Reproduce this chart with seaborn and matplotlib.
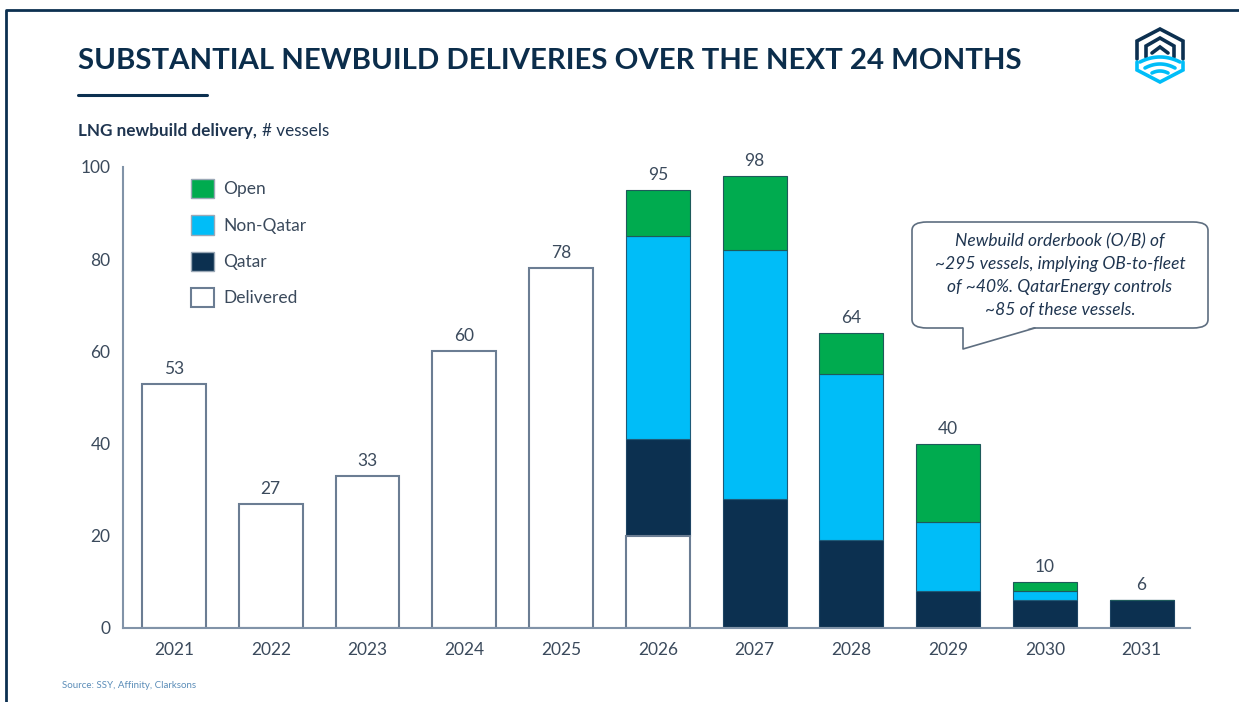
import numpy as np
import matplotlib
matplotlib.use("Agg")
import matplotlib.pyplot as plt
import seaborn as sns
from matplotlib.patches import Patch, FancyBboxPatch, Polygon
from matplotlib.lines import Line2D

# chart values (vessels per year, bottom -> top of each stack)
years = ['2021', '2022', '2023', '2024', '2025', '2026', '2027', '2028', '2029', '2030', '2031']
delivered = np.array([53, 27, 33, 60, 78, 20, 0, 0, 0, 0, 0])
qatar = np.array([0, 0, 0, 0, 0, 21, 28, 19, 8, 6, 6])
non_qatar = np.array([0, 0, 0, 0, 0, 44, 54, 36, 15, 2, 0])
open_ = np.array([0, 0, 0, 0, 0, 10, 16, 9, 17, 2, 0])
totals = delivered + qatar + non_qatar + open_

y_ticks = [0, 20, 40, 60, 80, 100]

NAVY = "#0C3050"
BLUE = "#00BDF8"
GREEN = "#00AB4F"
EDGE = "#6B7D93"
TXT = "#3B4A5C"
AXIS = "#8193A8"

sns.set_style("white")
plt.rcParams['font.family'] = ['Lato', 'DejaVu Sans']

W, H = 1239, 702
fig = plt.figure(figsize=(W / 100, H / 100), dpi=100)


def fx(x):
    return x / W


def fy(y):
    return 1 - y / H


ax = fig.add_axes([fx(123), fy(628), fx(1190) - fx(123), fy(167) - fy(628)])

seg_kw = dict(x=years, order=years, width=0.66, saturation=1, ax=ax)
sns.barplot(y=qatar, bottom=delivered, color=NAVY, edgecolor="#1E4463", linewidth=0.8, **seg_kw)
sns.barplot(y=non_qatar, bottom=delivered + qatar, color=BLUE, edgecolor="#1E5A78", linewidth=0.8, **seg_kw)
sns.barplot(y=open_, bottom=delivered + qatar + non_qatar, color=GREEN, edgecolor="#1E5A5A", linewidth=0.8, **seg_kw)
open_bars = ax.containers[-1]
# delivered drawn last so its outline sits on top of empty segments
sns.barplot(y=delivered, color="white", edgecolor=EDGE, linewidth=1.5, **seg_kw)

# total labels on top of each stack
ax.bar_label(open_bars, labels=[str(t) for t in totals], padding=5,
             fontsize=12.5, color=TXT)

ax.set_xlim(-0.527, 10.5)
ax.set_ylim(0, 100)
ax.set_yticks(y_ticks)
ax.set_xlabel("")
ax.set_ylabel("")
sns.despine(ax=ax)
for side in ["left", "bottom"]:
    ax.spines[side].set_color(AXIS)
    ax.spines[side].set_linewidth(1.5)
ax.tick_params(axis="y", length=5, width=1.2, color=AXIS, labelsize=12.5, labelcolor=TXT, pad=4)
ax.tick_params(axis="x", length=0, labelsize=12.5, labelcolor=TXT, pad=10)

handles = [Patch(facecolor=GREEN, edgecolor="#9AA8B6", label="Open"),
           Patch(facecolor=BLUE, edgecolor="#9AA8B6", label="Non-Qatar"),
           Patch(facecolor=NAVY, edgecolor="#9AA8B6", label="Qatar"),
           Patch(facecolor="white", edgecolor=EDGE, linewidth=1.5, label="Delivered")]
leg = ax.legend(handles=handles, loc="upper left", bbox_to_anchor=(fx(184), fy(172)),
                bbox_transform=fig.transFigure, frameon=False, fontsize=12.5,
                handlelength=1.35, handleheight=1.35, labelspacing=0.97, handletextpad=0.5,
                borderaxespad=0)
for t in leg.get_texts():
    t.set_color(TXT)

# slide frame
fig.add_artist(Line2D([fx(6), fx(6), 1.0], [0.0, fy(10), fy(10)], color=NAVY, lw=2,
                      transform=fig.transFigure))

# title and underline
fig.text(fx(78), fy(61), "SUBSTANTIAL NEWBUILD DELIVERIES OVER THE NEXT 24 MONTHS",
         fontsize=21.2, fontweight="bold", color="#0B2D4B", va="center", ha="left")
fig.add_artist(Line2D([fx(78), fx(207)], [fy(95), fy(95)], color=NAVY, lw=2.2,
                      transform=fig.transFigure))

sub = fig.text(fx(78), fy(131), "LNG newbuild delivery,", fontsize=12.3, fontweight="bold",
               color="#1F3550", va="center", ha="left")
fig.canvas.draw()
sub_end = sub.get_window_extent().x1
fig.text(sub_end / W + fx(5), fy(131), "# vessels", fontsize=12.3, color="#1F3550",
         va="center", ha="left")

fig.text(fx(62), fy(685), "Source: SSY, Affinity, Clarksons", fontsize=7, color="#5B8DB8",
         va="center", ha="left")

# callout box
box = FancyBboxPatch((fx(912), fy(328)), fx(1208) - fx(912), fy(222) - fy(328),
                     boxstyle="round,pad=0,rounding_size=0.012", transform=fig.transFigure,
                     facecolor="white", edgecolor="#5E6E80", linewidth=1.2)
fig.add_artist(box)
fig.add_artist(Polygon([(fx(963), fy(327)), (fx(963), fy(348)), (fx(1034), fy(327))],
                       closed=True, facecolor="white", edgecolor="none",
                       transform=fig.transFigure, zorder=5))
fig.add_artist(Line2D([fx(963), fx(963), fx(1035)], [fy(328), fy(349), fy(328)],
                      color="#5E6E80", lw=1.2, transform=fig.transFigure, zorder=6))
callout = ["Newbuild orderbook (O/B) of", "~295 vessels, implying OB-to-fleet",
           "of ~40%. QatarEnergy controls", "~85 of these vessels."]
for i, line in enumerate(callout):
    fig.text(fx(1060), fy(241 + 23 * i), line, fontsize=12.5, style="italic", color="#1F3550",
             ha="center", va="center")

# logo
lw = 2.6
for pts in [[(1137, 59), (1137, 41), (1160, 29), (1183, 41), (1183, 59)],
            [(1146, 57), (1146, 46), (1160, 38), (1174, 46), (1174, 57)],
            [(1152, 53), (1160, 47), (1168, 53)]]:
    xs, ys = zip(*pts)
    fig.add_artist(Line2D([fx(v) for v in xs], [fy(v) for v in ys], color=NAVY, lw=lw,
                          transform=fig.transFigure, solid_joinstyle="miter"))
for pts in [[(1137, 62), (1137, 70), (1160, 82), (1183, 70), (1183, 62)]]:
    xs, ys = zip(*pts)
    fig.add_artist(Line2D([fx(v) for v in xs], [fy(v) for v in ys], color=BLUE, lw=lw,
                          transform=fig.transFigure, solid_joinstyle="miter"))
for half, yc, sag in [(20, 62, 5), (15, 68, 4), (8, 73, 2)]:
    t = np.linspace(-1, 1, 30)
    xs = 1160 + half * t
    ys = yc - sag * (1 - t ** 2)
    fig.add_artist(Line2D(fx(xs), fy(ys), color=BLUE, lw=lw, transform=fig.transFigure))

fig.savefig("out.png", dpi=100)
